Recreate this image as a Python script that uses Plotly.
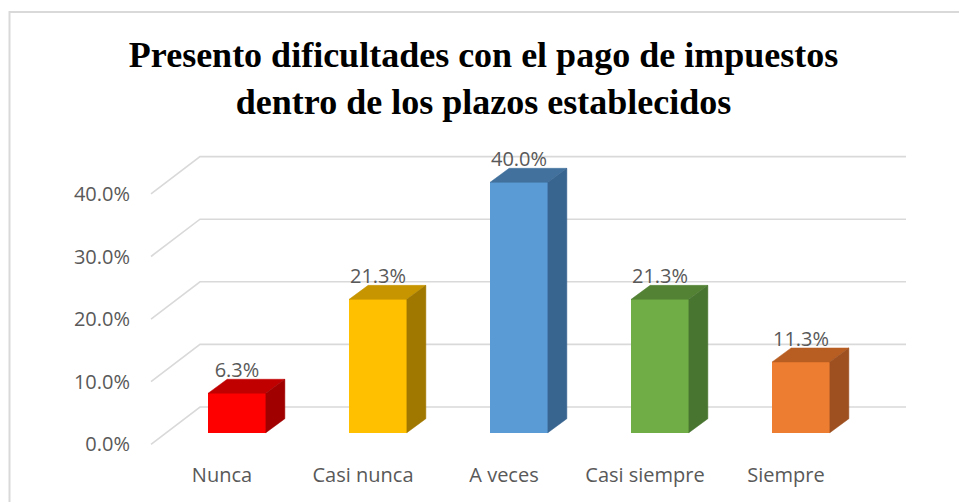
import plotly.graph_objects as go

# ---------------- data ----------------
categories = ["Nunca", "Casi nunca", "A veces", "Casi siempre", "Siempre"]
values = [6.3, 21.3, 40.0, 21.3, 11.3]
value_labels = ["6.3%", "21.3%", "40.0%", "21.3%", "11.3%"]
tick_values = [0, 10, 20, 30, 40]
tick_labels = ["0.0%", "10.0%", "20.0%", "30.0%", "40.0%"]
title_text = "Presento dificultades con el pago de impuestos<br>dentro de los plazos establecidos"

front_colors = ["#FF0000", "#FFC000", "#5B9BD5", "#70AD47", "#ED7D31"]
top_colors = ["#C00000", "#C79500", "#41719C", "#548235", "#B85E22"]
side_colors = ["#A00000", "#A07800", "#386590", "#487530", "#9E5020"]

# ---------------- geometry (pixels, screenshot coordinates) ----------------
W, H = 967, 502
OFF = 8  # page body margin
PL, PR, PT, PB = 140, 940, 130, 455
X0PX, XSTEP = 237.0, 141.0
PX_PER_UNIT = 6.26
TICK_ZERO_PX = 444.3
BAR_ZERO_PX = 432.7
GRID_FRONT_PX, GRID_BACK_PX, GRID_RIGHT_PX = 151, 200, 906
GRID_BACK_RISE = 37.3 / PX_PER_UNIT
BAR_W = 57.7 / XSTEP
DX = 19.0 / XSTEP
DY = 14.0 / PX_PER_UNIT
LABEL_DROP = 3.0 / PX_PER_UNIT


def xr(px):
    return (px - X0PX) / XSTEP


x_range = [xr(PL), xr(PR)]
y_range = [(TICK_ZERO_PX - PB) / PX_PER_UNIT, (TICK_ZERO_PX - PT) / PX_PER_UNIT]
y2_range = [(BAR_ZERO_PX - PB) / PX_PER_UNIT, (BAR_ZERO_PX - PT) / PX_PER_UNIT]

idx = list(range(len(categories)))
FONT = "Open Sans, Liberation Sans, sans-serif"
GRAY = "#595959"

fig = go.Figure()

# front faces
fig.add_trace(go.Bar(
    x=idx, y=values, width=BAR_W, yaxis="y2",
    marker=dict(color=front_colors, line=dict(width=0)),
    hoverinfo="skip", showlegend=False,
))

# top and side faces
for i, v in enumerate(values):
    xl, xrr = i - BAR_W / 2, i + BAR_W / 2
    fig.add_trace(go.Scatter(
        x=[xl, xrr, xrr + DX, xl + DX, xl],
        y=[v, v, v + DY, v + DY, v],
        mode="lines", fill="toself", fillcolor=top_colors[i],
        line=dict(color=top_colors[i], width=0.5), yaxis="y2",
        hoverinfo="skip", showlegend=False,
    ))
    fig.add_trace(go.Scatter(
        x=[xrr, xrr + DX, xrr + DX, xrr, xrr],
        y=[0, DY, v + DY, v, 0],
        mode="lines", fill="toself", fillcolor=side_colors[i],
        line=dict(color=side_colors[i], width=0.5), yaxis="y2",
        hoverinfo="skip", showlegend=False,
    ))

# data labels
fig.add_trace(go.Scatter(
    x=idx, y=[v + DY - LABEL_DROP for v in values], yaxis="y2",
    mode="text", text=value_labels, textposition="top center",
    textfont=dict(family=FONT, size=20, color=GRAY),
    cliponaxis=False, hoverinfo="skip", showlegend=False,
))

# gridlines (perspective)
shapes = []
for t in tick_values:
    shapes.append(dict(
        type="path", xref="x", yref="y", layer="below",
        path=(f"M {xr(GRID_FRONT_PX)},{t} L {xr(GRID_BACK_PX)},{t + GRID_BACK_RISE} "
              f"L {xr(GRID_RIGHT_PX)},{t + GRID_BACK_RISE}"),
        line=dict(color="#D9D9D9", width=1.6),
    ))

# chart border
pw, ph = PR - PL, PB - PT
shapes.append(dict(
    type="rect", xref="paper", yref="paper",
    x0=(OFF + 1.5 - PL) / pw, x1=(1000 - PL) / pw,
    y0=(PB - 540) / ph, y1=(PB - 12) / ph,
    line=dict(color="#D9D9D9", width=2), fillcolor="rgba(0,0,0,0)",
))

fig.update_layout(
    width=W, height=H,
    margin=dict(l=PL - OFF, r=W - (PR - OFF), t=PT - OFF, b=H - (PB - OFF)),
    paper_bgcolor="white", plot_bgcolor="white",
    showlegend=False, hovermode=False,
    title=dict(
        text="<b>" + title_text + "</b>",
        x=0.5 - OFF / W, xref="container", xanchor="center",
        y=1 - 59 / H, yref="container", yanchor="middle",
        font=dict(family="Liberation Serif, Times New Roman, serif", size=36, color="black"),
    ),
    xaxis=dict(
        range=x_range, tickvals=idx, ticktext=categories,
        showgrid=False, zeroline=False, showline=False, ticks="",
        ticklabelshift=-15, ticklabelstandoff=6,
        tickfont=dict(family=FONT, size=20, color=GRAY),
        fixedrange=True,
    ),
    yaxis=dict(
        range=y_range, tickvals=tick_values, ticktext=tick_labels,
        showgrid=False, zeroline=False, showline=False, ticks="",
        ticklabelstandoff=9,
        tickfont=dict(family=FONT, size=20, color=GRAY),
        fixedrange=True,
    ),
    yaxis2=dict(
        range=y2_range, overlaying="y", visible=False, fixedrange=True,
    ),
    shapes=shapes,
    bargap=0,
)

fig.write_html("out.html")
